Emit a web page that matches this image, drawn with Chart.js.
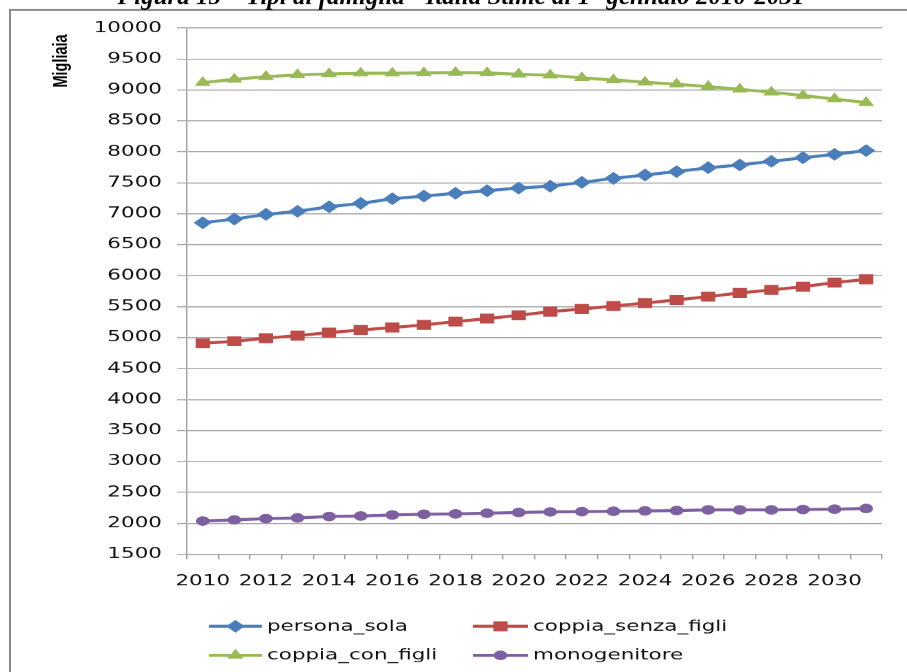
<!DOCTYPE html>
<html>
<head>
<meta charset="utf-8">
<script src="https://cdn.jsdelivr.net/npm/chart.js@4/dist/chart.umd.min.js"></script>
<style>
  html, body { margin: 0; padding: 0; background: #fff; overflow: hidden; }
  #wrap { position: absolute; left: 0; top: 0; width: 634px; height: 672px;
          transform: scaleX(1.430599); transform-origin: 0 0; }
</style>
</head>
<body>
<div id="wrap"><canvas id="c" width="634" height="672"></canvas></div>
<script>
// Famiglie per tipo, migliaia, stime al 1° gennaio
const years = ['2010','2011','2012','2013','2014','2015','2016','2017','2018','2019','2020',
               '2021','2022','2023','2024','2025','2026','2027','2028','2029','2030','2031'];
const personaSola      = [6854, 6914, 6990, 7039, 7113, 7168, 7243, 7286, 7330, 7372, 7415,
                          7445, 7507, 7572, 7626, 7680, 7744, 7788, 7847, 7905, 7960, 8020];
const coppiaSenzaFigli = [4908, 4940, 4989, 5032, 5080, 5123, 5162, 5204, 5259, 5307, 5360,
                          5419, 5461, 5510, 5558, 5607, 5661, 5720, 5768, 5822, 5887, 5942];
const coppiaConFigli   = [9118, 9173, 9215, 9243, 9259, 9270, 9270, 9275, 9280, 9275, 9254,
                          9237, 9194, 9162, 9124, 9092, 9054, 9011, 8963, 8908, 8854, 8795];
const monogenitore     = [2037, 2054, 2075, 2086, 2108, 2118, 2135, 2146, 2151, 2162, 2173,
                          2184, 2189, 2194, 2200, 2205, 2216, 2216, 2216, 2221, 2227, 2238];
const yMin = 1500, yMax = 10000, yStep = 500;
const figureTitle = 'Figura 15 – Tipi di famiglia - Italia Stime al 1° gennaio 2010-2031';
const axisTitle = 'Migliaia';

// the chart picture is laid out in a narrow frame and widened horizontally
const W = 634, SX = 907 / W;
const FONT = '"DejaVu Sans", sans-serif';
const GRID = '#a3a3a3';

function series(label, data, color, style, radius) {
  return {
    label, data,
    borderColor: color, backgroundColor: color,
    borderWidth: 3, tension: 0,
    pointStyle: style, pointRadius: radius, pointHoverRadius: radius,
    pointBackgroundColor: color, pointBorderColor: color, pointBorderWidth: 1
  };
}

const datasets = [
  series('persona_sola', personaSola, '#4a7ebb', 'rectRot', 5.7),
  series('coppia_senza_figli', coppiaSenzaFigli, '#be4b48', 'rect', 6.3),
  series('coppia_con_figli', coppiaConFigli, '#98b954', 'triangle', 5.5),
  series('monogenitore', monogenitore, '#7d60a0', 'circle', 4.3)
];

// legend slots: [lineStart, lineEnd, row y]
const legendSlots = [
  [146.1, 183.1, 626],
  [330.6, 369.1, 626],
  [146.1, 183.1, 655],
  [330.6, 369.1, 655]
];

const framePlugin = {
  id: 'frame',
  afterDraw(chart) {
    const ctx = chart.ctx;
    ctx.save();
    // outer box
    ctx.fillStyle = '#8a8a8a';
    ctx.fillRect(6.3, 9, 700, 2);
    ctx.fillRect(6.3, 9, 1.4, 700);

    // axis title
    ctx.save();
    ctx.translate(43, 61);
    ctx.rotate(-Math.PI / 2);
    ctx.fillStyle = '#000';
    ctx.font = 'bold 14.5px "Liberation Sans", Arial, sans-serif';
    ctx.textAlign = 'center';
    ctx.textBaseline = 'middle';
    ctx.fillText(axisTitle, 0, 0);
    ctx.restore();

    // legend
    ctx.font = '15px ' + FONT;
    ctx.textBaseline = 'middle';
    ctx.textAlign = 'left';
    chart.data.datasets.forEach((ds, i) => {
      const [x1, x2, y] = legendSlots[i];
      ctx.strokeStyle = ds.borderColor;
      ctx.lineWidth = ds.borderWidth;
      ctx.beginPath();
      ctx.moveTo(x1, y);
      ctx.lineTo(x2, y);
      ctx.stroke();
      ctx.fillStyle = ds.borderColor;
      ctx.lineWidth = 1;
      Chart.helpers.drawPoint(ctx, {
        pointStyle: ds.pointStyle, radius: ds.pointRadius, borderWidth: 1, rotation: 0
      }, (x1 + x2) / 2, y);
      ctx.fillStyle = '#111';
      ctx.fillText(ds.label, x2 + 3.5, y + 0.5);
    });

    // caption above the box, in plain (not widened) proportions
    ctx.scale(1 / SX, 1);
    ctx.fillStyle = '#000';
    ctx.font = 'bold italic 25px "Liberation Serif", "Times New Roman", serif';
    ctx.textAlign = 'center';
    ctx.textBaseline = 'alphabetic';
    ctx.fillText(figureTitle, 461, 4);
    ctx.restore();
  }
};

new Chart(document.getElementById('c'), {
  type: 'line',
  data: { labels: years, datasets },
  plugins: [framePlugin],
  options: {
    responsive: false,
    animation: false,
    devicePixelRatio: SX,
    layout: { padding: { left: 0, right: 17.5, top: 28, bottom: 78 } },
    plugins: { legend: { display: false }, title: { display: false }, tooltip: { enabled: false } },
    scales: {
      x: {
        type: 'category',
        offset: true,
        grid: { display: true, drawOnChartArea: false, drawTicks: true, tickLength: 5, offset: true, color: GRID },
        border: { display: true, color: GRID, width: 1 },
        ticks: {
          autoSkip: false, maxRotation: 0, minRotation: 0, padding: 13, color: '#111',
          font: { family: FONT, size: 15 },
          callback: (v, i) => (i % 2 === 0 ? years[i] : '')
        },
        afterFit: s => { s.height = 40; }
      },
      y: {
        min: yMin, max: yMax,
        grid: { color: GRID, tickLength: 7, drawTicks: true },
        border: { display: true, color: GRID, width: 1 },
        ticks: {
          stepSize: yStep, padding: 10.5, color: '#111',
          font: { family: FONT, size: 15 },
          callback: v => String(v)
        },
        afterFit: s => { s.width = 130.7; }
      }
    }
  }
});
</script>
</body>
</html>
